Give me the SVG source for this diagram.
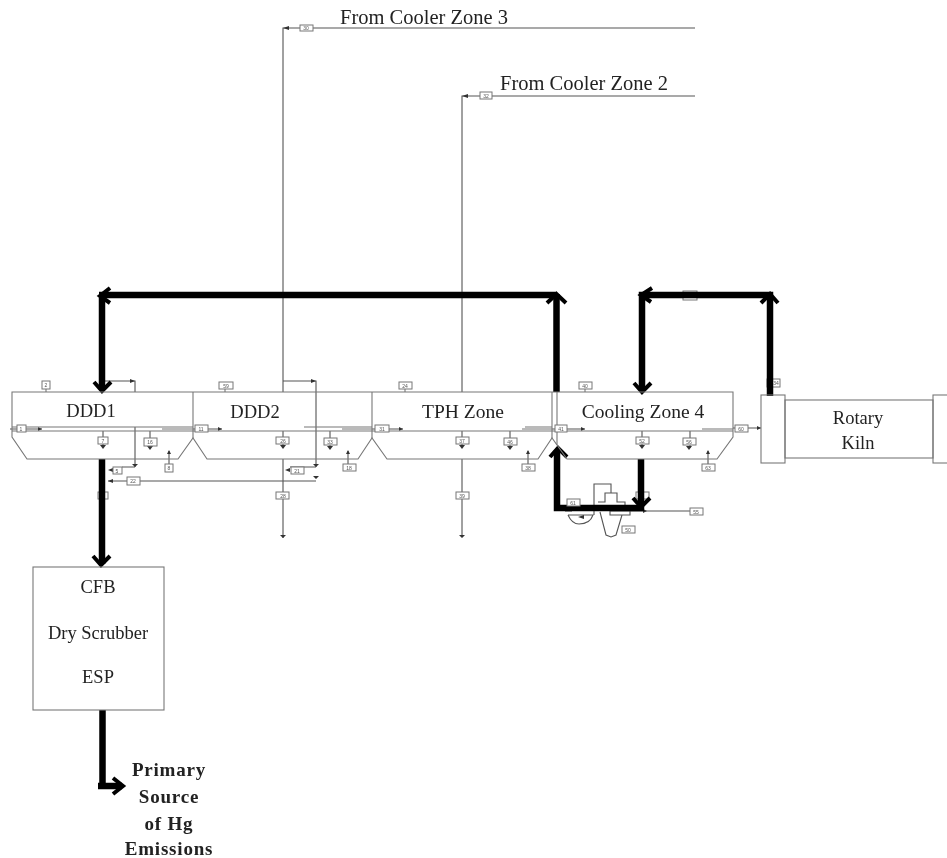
<svg xmlns="http://www.w3.org/2000/svg" width="947" height="858" viewBox="0 0 947 858">
<style>
text{font-family:"Liberation Serif","Times New Roman",serif;fill:#222}
.t{font-size:18.5px;text-anchor:middle}
.f{font-size:20.5px;text-anchor:middle}
.h{font-size:18.5px;text-anchor:middle}
.b{font-size:19px;font-weight:bold;text-anchor:middle;letter-spacing:.8px}
.n{font-size:5px;text-anchor:middle;fill:#555;font-family:"Liberation Sans",Arial,sans-serif}
.o{fill:none;stroke:#777;stroke-width:1.1}
.d{fill:none;stroke:#555;stroke-width:1.1}
.tag{fill:#fff;stroke:#777;stroke-width:1}
.k{fill:none;stroke:#000;stroke-width:6.5}
.a{fill:none;stroke:#000;stroke-width:4}
.ah{fill:#333}
</style>
<defs><filter id="soft" x="0" y="0" width="1" height="1"><feGaussianBlur stdDeviation="0.45"/></filter></defs>
<rect width="947" height="858" fill="#fff"/>
<g filter="url(#soft)">
<g id="tags-under">
<rect class="tag" x="683" y="291" width="14" height="9"/>
<rect class="tag" x="98" y="492" width="10" height="7"/>
<rect class="tag" x="636" y="492" width="13" height="7"/>
<rect class="tag" x="767" y="379" width="13" height="8"/><text class="n" x="776" y="385">34</text>
</g>
<g id="connectors">
<path class="d" d="M695 28H283V392M695 96H462V392"/>
<path class="ah" d="M283 28l6-2v4zM462 96l6-2v4z"/>
<path class="d" d="M105 381H135V392M283 381H316V467M135 427V467M316 467H290M135 467H122M316 481H108M283 459V538M462 459V536M103 431V445M150 431V448M169 468V451M283 431V445M330 431V448M348 468V451M462 431V445M510 431V448M528 468V451M642 431V445M690 431V448M708 468V451M10 429H42M193 429H222M372 429H403M552 429H585M733 428H761"/>
<path class="ah" d="M135 381l-5-2v4zM316 381l-5-2v4zM283 538l-3-3h6zM462 538l-3-3h6zM108 481l5-2v4zM108 470l5-2v4zM285 470l5-2v4zM135 467l-3-3h6zM316 467l-3-3h6zM316 479l-3-3h6zM100 445h6l-3 4zM147 446h6l-3 4zM280 445h6l-3 4zM327 446h6l-3 4zM459 445h6l-3 4zM507 446h6l-3 4zM639 445h6l-3 4zM686 446h6l-3 4zM169 450l-2 4h4zM348 450l-2 4h4zM528 450l-2 4h4zM708 450l-2 4h4zM42 429l-4-2v4zM222 429l-4-2v4zM403 429l-4-2v4zM585 429l-4-2v4zM761 428l-4-2v4z"/>
<path class="d" d="M565 511H572M568 515Q572 524 579 524Q590 524 593 515H568M594 515V484H611V493H617V502H625V505M598 502H605V493H611M600 512L606 535L611 537L616 535L622 515M610 511H630V515H610ZM630 511H690"/>
<path class="ah" d="M578 517l6-2v4zM647 511l-4-2v4z"/>
<path class="k" d="M102 296V390"/><path class="a" d="M94 382L102 391L111 382"/>
<path class="k" d="M99 295H557"/><path class="a" d="M110 288L100 296L110 303"/>
<path class="k" d="M556.500 392V294"/><path class="a" d="M547 303L556.500 294L566 303"/>
<path class="k" d="M642 390V295H770V396"/><path class="a" d="M634 383L642 392L651 383M652 288L641 295L651 302M761 303L770 294L778 303"/>
<path class="k" d="M557 450V508H641V459"/><path class="a" d="M550 457L558 448L567 457M633 498L641 507L650 498"/>
<path class="k" d="M102 459V564"/><path class="a" d="M93 556L101 565L110 556"/>
<path class="k" d="M102.500 710V786H98H122"/><path class="a" d="M113 778L123 786L113 794"/>
</g>
<g id="zones">
<path class="o" d="M12 392H733V437L717 459H567L552 438L538 459H387L372 438L358 459H207L193 438L178 459H27L12 437Z"/>
<path class="o" d="M193 392V438M372 392V438M552 392V438M557 392V445"/>
<path class="o" d="M12 431H733M12 427H193M162 429H193M304 427H372M342 429H372M522 429H552M525 427H552M702 429H733"/>
</g>
<g id="ddd1"><text class="t" x="91" y="417">DDD1</text></g>
<g id="ddd2"><text class="t" x="255" y="418">DDD2</text></g>
<g id="tph"><text class="t" x="463" y="418" style="font-size:19.500px">TPH Zone</text></g>
<g id="cooling4"><text class="t" x="643" y="418" style="font-size:19.500px">Cooling Zone 4</text></g>
<g id="kiln">
<rect class="o" x="761" y="395" width="24" height="68"/>
<rect class="o" x="785" y="400" width="148" height="58"/>
<rect class="o" x="933" y="395" width="16" height="68"/>
<text class="h" x="858" y="424">Rotary</text>
<text class="h" x="858" y="449">Kiln</text>
</g>
<g id="scrubber">
<rect class="o" x="33" y="567" width="131" height="143"/>
<text class="h" x="98" y="593">CFB</text>
<text class="h" x="98" y="639">Dry Scrubber</text>
<text class="h" x="98" y="683">ESP</text>
</g>
<g id="labels">
<text class="f" x="424" y="24">From Cooler Zone 3</text>
<text class="f" x="584" y="90">From Cooler Zone 2</text>
<text class="b" x="169" y="776">Primary</text>
<text class="b" x="169" y="803">Source</text>
<text class="b" x="169" y="830">of Hg</text>
<text class="b" x="169" y="855">Emissions</text>
</g>
<g id="tags">
<path class="o" d="M46 389V392M225 389V392M405 389V392M585 389V392"/>
<rect class="tag" x="42" y="381" width="8" height="8"/><text class="n" x="46" y="387">2</text>
<rect class="tag" x="219" y="382" width="14" height="7"/><text class="n" x="226" y="388">59</text>
<rect class="tag" x="399" y="382" width="13" height="7"/><text class="n" x="405" y="388">24</text>
<rect class="tag" x="579" y="382" width="13" height="7"/><text class="n" x="585" y="388">40</text>
<rect class="tag" x="300" y="25" width="13" height="6"/><text class="n" x="306" y="30">30</text>
<rect class="tag" x="480" y="92" width="12" height="7"/><text class="n" x="486" y="98">32</text>
<rect class="tag" x="17" y="425" width="9" height="7"/><text class="n" x="21" y="431">1</text>
<rect class="tag" x="195" y="425" width="13" height="7"/><text class="n" x="201" y="431">11</text>
<rect class="tag" x="375" y="425" width="14" height="7"/><text class="n" x="382" y="431">31</text>
<rect class="tag" x="555" y="425" width="12" height="7"/><text class="n" x="561" y="431">41</text>
<rect class="tag" x="735" y="425" width="13" height="7"/><text class="n" x="741" y="431">60</text>
<rect class="tag" x="98" y="437" width="10" height="7"/><text class="n" x="103" y="443">7</text>
<rect class="tag" x="144" y="438" width="13" height="8"/><text class="n" x="150" y="444">16</text>
<rect class="tag" x="165" y="464" width="8" height="8"/><text class="n" x="169" y="470">8</text>
<rect class="tag" x="276" y="437" width="13" height="7"/><text class="n" x="283" y="443">26</text>
<rect class="tag" x="324" y="438" width="13" height="7"/><text class="n" x="330" y="444">33</text>
<rect class="tag" x="343" y="464" width="13" height="7"/><text class="n" x="349" y="470">18</text>
<rect class="tag" x="456" y="437" width="13" height="7"/><text class="n" x="462" y="443">37</text>
<rect class="tag" x="504" y="438" width="13" height="7"/><text class="n" x="510" y="444">46</text>
<rect class="tag" x="522" y="464" width="13" height="7"/><text class="n" x="528" y="470">38</text>
<rect class="tag" x="636" y="437" width="13" height="7"/><text class="n" x="642" y="443">52</text>
<rect class="tag" x="683" y="438" width="13" height="7"/><text class="n" x="689" y="444">56</text>
<rect class="tag" x="702" y="464" width="13" height="7"/><text class="n" x="708" y="470">63</text>
<rect class="tag" x="113" y="467" width="9" height="7"/><text class="n" x="117" y="473">5</text>
<rect class="tag" x="127" y="477" width="13" height="8"/><text class="n" x="133" y="483">22</text>
<rect class="tag" x="291" y="467" width="13" height="7"/><text class="n" x="297" y="473">21</text>
<rect class="tag" x="276" y="492" width="13" height="7"/><text class="n" x="283" y="498">28</text>
<rect class="tag" x="456" y="492" width="13" height="7"/><text class="n" x="462" y="498">39</text>
<rect class="tag" x="567" y="499" width="13" height="7"/><text class="n" x="573" y="505">61</text>
<rect class="tag" x="690" y="508" width="13" height="7"/><text class="n" x="696" y="514">55</text>
<rect class="tag" x="622" y="526" width="13" height="7"/><text class="n" x="628" y="532">50</text>
</g>
</g>
</svg>
